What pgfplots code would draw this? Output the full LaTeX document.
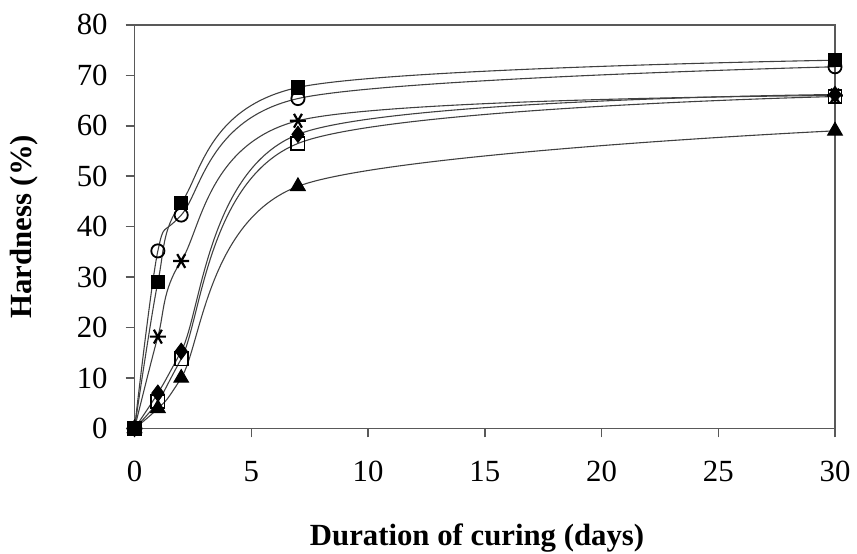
\documentclass[border=0pt]{standalone}
\usepackage{fontspec}
\setmainfont{Liberation Serif}
\usepackage{pgfplots}
\pgfplotsset{compat=1.18}
\begin{document}
\begin{tikzpicture}
\begin{axis}[
  name=ax,
  scale only axis, width=351.5bp, height=202.5bp,
  xmin=0, xmax=30, ymin=0, ymax=80,
  xtick={0,5,...,30}, ytick={0,10,...,80},
  tick align=outside, tick pos=left, major tick length=4.5bp,
  axis line style={draw=black!65, line width=0.75bp},
  every tick/.style={black!65, line width=0.75bp},
  /pgf/number format/assume math mode=true,
  tick label style={font=\fontsize{15.5}{18}\selectfont},
  xticklabel style={yshift=-8.5bp},
  yticklabel style={xshift=-5.5bp},
  xlabel={Duration of curing (days)}, ylabel={Hardness (\%)},
  label style={font=\fontsize{15.5}{18}\selectfont\bfseries, inner sep=0.5bp},
  xlabel style={at={(axis description cs:0.489,0)}, anchor=center, yshift=-55bp},
  ylabel style={at={(axis description cs:-0.158,0.5)}, anchor=center},
  clip=false,
  every axis plot/.append style={smooth, draw=black!75, line width=0.55bp},
]
% filled square
\addplot[mark=square*, mark size=3.3bp, mark options={draw=black, fill=black}]
  coordinates {(0,0) (1,29) (2,44.7) (7,67.6) (30,73)};
% open circle
\addplot[mark=o, mark size=3.3bp, mark options={draw=black, fill=white, line width=0.9bp}]
  coordinates {(0,0) (1,35.2) (2,42.3) (7,65.4) (30,71.7)};
% asterisk
\addplot[mark=asterisk, mark size=4bp, mark options={draw=black, rotate=90, line width=1.1bp}]
  coordinates {(0,0) (1,18.2) (2,33.2) (7,61) (30,66)};
% filled diamond
\addplot[mark=diamond*, mark size=4bp, mark options={draw=black, fill=black}]
  coordinates {(0,0) (1,7) (2,15.3) (7,58.3) (30,66.2)};
% open square
\addplot[mark=square, mark size=3.3bp, mark options={draw=black, fill=white, line width=0.9bp}]
  coordinates {(0,0) (1,5.3) (2,13.8) (7,56.5) (30,65.8)};
% filled triangle
\addplot[mark=triangle*, mark size=4.2bp, mark options={draw=black, fill=black}]
  coordinates {(0,0) (1,4) (2,10) (7,48) (30,59)};
\end{axis}
\path ([shift={(-67.5bp,-62.5bp)}]ax.south west) rectangle ([shift={(9.5bp,12.5bp)}]ax.north east);
\end{tikzpicture}
\end{document}
